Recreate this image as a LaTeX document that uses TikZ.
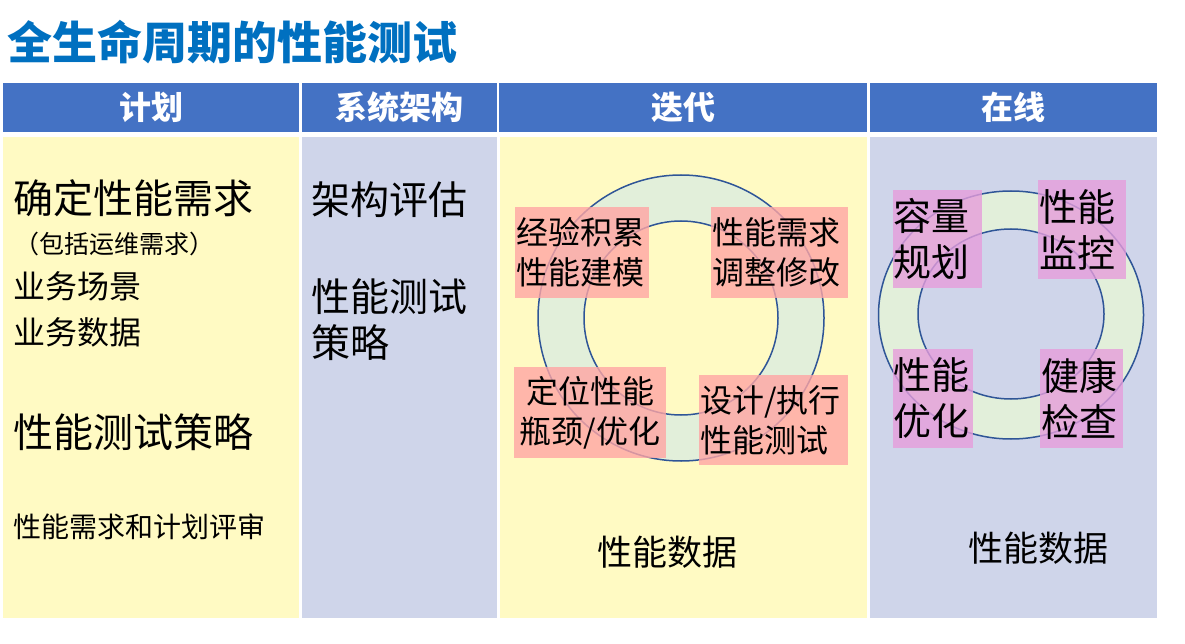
\documentclass[tikz,border=0pt]{standalone}
\usepackage{fontspec}
\setmainfont{Noto Sans CJK SC}
\usepackage{tikz}
\definecolor{titleblue}{HTML}{0070C0}
\definecolor{headblue}{HTML}{4472C4}
\definecolor{paleyellow}{RGB}{255,250,195}
\definecolor{palelav}{RGB}{207,213,234}
\definecolor{ringgreen}{RGB}{226,239,218}
\definecolor{ringline}{HTML}{2F5597}
\definecolor{salmon}{RGB}{255,165,164}
\definecolor{orchid}{RGB}{230,157,219}
\newcommand*{\fs}[2]{\fontsize{#1}{#2}\selectfont}

\begin{document}
\begin{tikzpicture}[x=1pt,y=-1pt]
\tikzstyle head=[fill=headblue,text=white,font=\fs{32}{36}\bfseries,inner sep=0pt]
\tikzstyle txt=[anchor=west,inner sep=0pt,align=left]
\tikzstyle ring=[draw=ringline,line width=1.5pt]
\tikzstyle pinkbox=[fill=salmon,fill opacity=.8,text opacity=1,inner xsep=1pt,inner ysep=0pt,font=\fs{32}{40},align=left]
\tikzstyle lilacbox=[fill=orchid,fill opacity=.8,text opacity=1,inner xsep=0pt,inner ysep=0pt,font=\fs{38}{46},align=left]
 \useasboundingbox (0,0) rectangle (1185,644);
 \node[txt,text=titleblue,font=\fs{45}{50}\bfseries] (title) at (7,42) {全生命周期的性能测试};
 % header row
 \node[head,minimum width=296pt,minimum height=49pt] (h1) at (151,107.5) {计划};
 \node[head,minimum width=195pt,minimum height=49pt] (h2) at (399.5,107.5) {系统架构};
 \node[head,minimum width=368pt,minimum height=49pt] (h3) at (683,107.5) {迭代};
 \node[head,minimum width=287pt,minimum height=49pt] (h4) at (1013.5,107.5) {在线};
 % columns
 \fill[paleyellow] (3,137) rectangle (299,618);
 \fill[palelav] (302,137) rectangle (497,618);
 \fill[paleyellow] (500,137) rectangle (867,618);
 \fill[palelav] (870,137) rectangle (1157,618);
 % plan
 \node[txt,font=\fs{40}{44}] (need) at (13,198) {确定性能需求};
 \node[txt,font=\fs{25}{28}] (ops) at (14,244) {（包括运维需求）};
 \node[txt,font=\fs{32}{36}] (scene) at (13,286) {业务场景};
 \node[txt,font=\fs{32}{36}] (data) at (13,332) {业务数据};
 \node[txt,font=\fs{40}{44}] (strat) at (13,432) {性能测试策略};
 \node[txt,font=\fs{28}{32}] (review) at (13,527) {性能需求和计划评审};
 % architecture
 \node[txt,font=\fs{39}{44}] (arch) at (311,200) {架构评估};
 \node[txt,font=\fs{39}{46}] (astrat) at (311,320) {性能测试\\策略};
 % iteration
 \fill[ringgreen] (681,318) circle (143);
 \draw[ring] (681,318) circle (143);
 \fill[paleyellow] (681,318) circle (97);
 \draw[ring] (681,318) circle (97);
 \node[pinkbox,text width=132pt,minimum height=91pt] (model) at (582,252.5) {经验积累\\性能建模};
 \node[pinkbox,text width=135pt,minimum height=91pt] (adjust) at (779.5,252.5) {性能需求\\调整修改};
 \node[pinkbox,minimum width=152pt,minimum height=91pt,align=center] (locate) at (590,412.5) {定位性能\\瓶颈/优化};
 \node[pinkbox,text width=147pt,minimum height=90pt] (exec) at (773.5,420) {设计/执行\\性能测试};
 \node[font=\fs{35}{40},inner sep=0pt] (idata) at (667,552) {性能数据};
 % online
 \fill[ringgreen] (1011,315) ellipse [x radius=132.5,y radius=124];
 \draw[ring] (1011,315) ellipse [x radius=132.5,y radius=124];
 \fill[palelav] (1011,314) ellipse [x radius=93,y radius=85];
 \draw[ring] (1011,314) ellipse [x radius=93,y radius=85];
 \node[lilacbox,text width=89pt,minimum height=98pt] (cap) at (937.5,239) {容量\\规划};
 \node[lilacbox,text width=86pt,minimum height=99pt,inner xsep=1pt] (mon) at (1082,229.5) {性能\\监控};
 \node[lilacbox,text width=80pt,minimum height=99pt] (opt) at (933,398.5) {性能\\优化};
 \node[lilacbox,text width=81pt,minimum height=99pt,inner xsep=1pt] (health) at (1081.5,398.5) {健康\\检查};
 \node[font=\fs{35}{40},inner sep=0pt] (odata) at (1038,548) {性能数据};
\end{tikzpicture}
\end{document}
